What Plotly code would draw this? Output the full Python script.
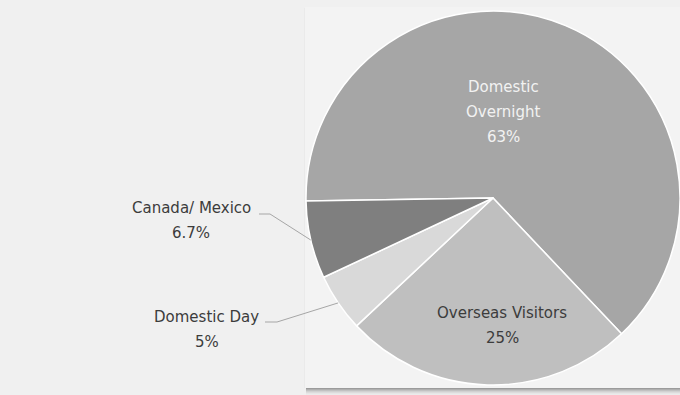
import math
import plotly.graph_objects as go

# Visitor segments, listed clockwise starting at the 9 o'clock boundary
labels = ["Domestic Overnight", "Overseas Visitors", "Domestic Day", "Canada/ Mexico"]
values = [63, 25, 5, 6.7]
colors = ["#a6a6a6", "#bfbfbf", "#d9d9d9", "#7f7f7f"]

# Label text split over lines as printed on the chart
label_lines = {
    "Domestic Overnight": ["Domestic", "Overnight"],
    "Overseas Visitors": ["Overseas Visitors"],
    "Domestic Day": ["Domestic Day"],
    "Canada/ Mexico": ["Canada/ Mexico"],
}

W, H = 680, 395
BG = "#f0f0f0"
PANEL = "#f3f3f3"
DARK = "#3c3c3c"
LIGHT = "#f2f2f2"
FONT = "DejaVu Sans"
FS = 15
LINE_GAP = 25

# Pie geometry in pixels
cx, cy, r = 493, 198, 187
rotation = -90.9

# Label layout: text centre x, first-line y, colour, optional leader elbow
label_layout = {
    "Domestic Overnight": dict(x=503, y=87, color=LIGHT, leader=None),
    "Overseas Visitors": dict(x=502, y=313, color=DARK, leader=None),
    "Domestic Day": dict(x=207, y=317, color=DARK, leader=((265, 322), (277, 322))),
    "Canada/ Mexico": dict(x=191, y=208, color=DARK, leader=((259, 214), (270, 214))),
}


def px(x):
    return x / W


def py(y):
    return 1 - y / H


fig = go.Figure()

fig.add_trace(go.Pie(
    labels=labels,
    values=values,
    sort=False,
    direction="clockwise",
    rotation=rotation,
    marker=dict(colors=colors, line=dict(color="white", width=1.5)),
    textinfo="none",
    hoverinfo="label+value",
    showlegend=False,
    domain=dict(x=[px(cx - r), px(cx + r)], y=[py(cy + r), py(cy - r)]),
))

shapes = []
# Panel behind the pie, with a soft drop shadow along its bottom edge
for i, op in enumerate([0.55, 0.42, 0.3, 0.2, 0.12, 0.06, 0.03]):
    shapes.append(dict(type="rect", xref="paper", yref="paper",
                       x0=px(306), x1=1, y0=py(388 + i + 1), y1=py(388 + i),
                       fillcolor="#555555", opacity=op, line=dict(width=0), layer="below"))
shapes.append(dict(type="rect", xref="paper", yref="paper",
                   x0=px(304), x1=px(305), y0=py(388), y1=py(8),
                   fillcolor="#eaeaea", line=dict(width=0), layer="below"))
shapes.append(dict(type="rect", xref="paper", yref="paper",
                   x0=px(305), x1=1, y0=py(388), y1=py(7),
                   fillcolor=PANEL, line=dict(width=0), layer="below"))

annotations = []
total = sum(values)
cum = 0.0
for lab, val in zip(labels, values):
    mid = math.radians(rotation + 360 * (cum + val / 2) / total)
    cum += val
    lay = label_layout[lab]
    lines = label_lines[lab] + [f"{val:g}%"]
    for k, t in enumerate(lines):
        annotations.append(dict(
            x=px(lay["x"]), y=py(lay["y"] + k * LINE_GAP), xref="paper", yref="paper",
            text=t, showarrow=False, xanchor="center", yanchor="middle",
            font=dict(family=FONT, size=FS, color=lay["color"]),
        ))
    if lay["leader"]:
        (x0, y0), (x1, y1) = lay["leader"]
        ex, ey = cx + r * math.sin(mid), cy - r * math.cos(mid)
        shapes.append(dict(
            type="path", xref="paper", yref="paper",
            path=f"M {px(x0)} {py(y0)} L {px(x1)} {py(y1)} L {px(ex)} {py(ey)}",
            line=dict(color="#a6a6a6", width=1),
        ))

fig.update_layout(
    width=W, height=H,
    margin=dict(l=0, r=0, t=0, b=0),
    paper_bgcolor=BG,
    plot_bgcolor=BG,
    shapes=shapes,
    annotations=annotations,
)

fig.write_html("out.html")
